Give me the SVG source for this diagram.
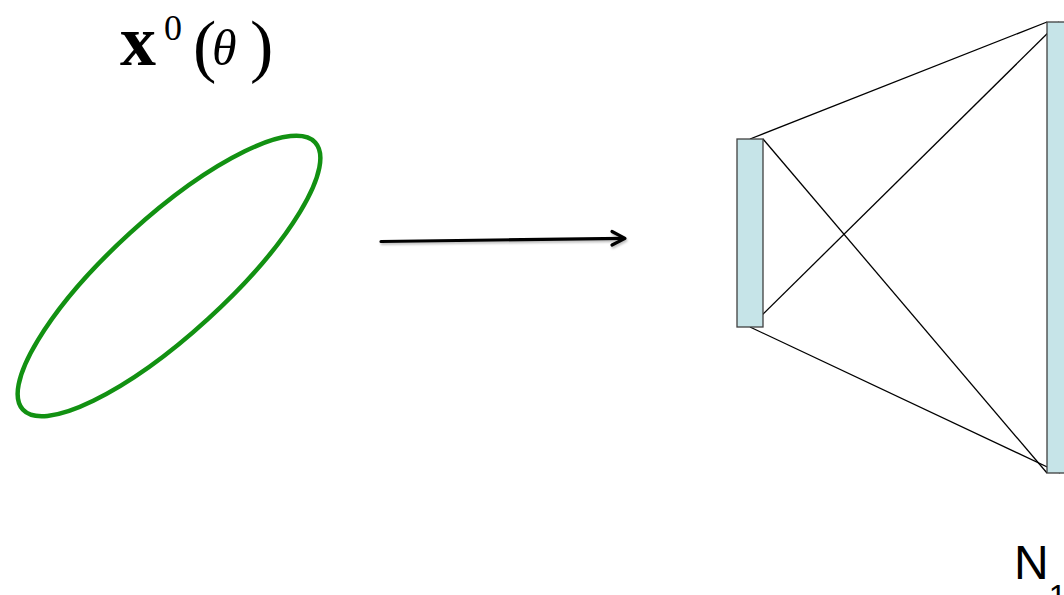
<svg xmlns="http://www.w3.org/2000/svg" width="1064" height="595" viewBox="0 0 1064 595">
  <defs>
    <style>
      .layer { fill: #c6e4e8; stroke: #404040; stroke-width: 1.3; }
      .conn { stroke: #000; stroke-width: 1.3; fill: none; }
      .math { font-family: "Liberation Serif", "DejaVu Serif", serif; fill: #000; }
      .lbl { font-family: "Liberation Sans", Arial, sans-serif; fill: #000; }
    </style>
    <filter id="sh" x="-10%" y="-50%" width="120%" height="200%">
      <feDropShadow dx="1" dy="2" stdDeviation="1.2" flood-color="#000" flood-opacity="0.25"/>
    </filter>
  </defs>
  <rect width="1064" height="595" fill="#fff"/>

  <g id="label-x0">
    <text class="math" x="120" y="65" font-size="72" font-weight="bold">x</text>
    <text class="math" x="164" y="40" font-size="36">0</text>
    <text class="math" x="193" y="69" font-size="70">(</text>
    <text class="math" x="212" y="65" font-size="50" font-style="italic">θ</text>
    <text class="math" x="250" y="69" font-size="70">)</text>
  </g>

  <g id="ellipse">
    <ellipse cx="169" cy="276" rx="198" ry="58" transform="rotate(-42.4 169 276)" fill="none" stroke="#129112" stroke-width="4.5"/>
  </g>

  <g id="arrow" filter="url(#sh)">
    <line x1="381" y1="241.5" x2="624" y2="238.3" stroke="#000" stroke-width="3.2" stroke-linecap="round"/>
    <polyline points="612,231.5 625,238.3 612,245" fill="none" stroke="#000" stroke-width="3.2" stroke-linecap="round" stroke-linejoin="round"/>
  </g>

  <g id="connectors">
    <line class="conn" x1="750" y1="139" x2="1047" y2="22"/>
    <line class="conn" x1="763" y1="139" x2="1047" y2="473"/>
    <line class="conn" x1="750" y1="327" x2="1059" y2="22"/>
    <line class="conn" x1="750" y1="327" x2="1060" y2="473"/>
  </g>

  <g id="layer-input">
    <rect class="layer" x="737" y="139" width="26" height="188"/>
  </g>

  <g id="layer-hidden">
    <rect class="layer" x="1047" y="22" width="26" height="451"/>
  </g>

  <g id="label-n1">
    <text class="lbl" x="1014" y="579" font-size="48">N<tspan font-size="32" dy="28">1</tspan></text>
  </g>
</svg>
